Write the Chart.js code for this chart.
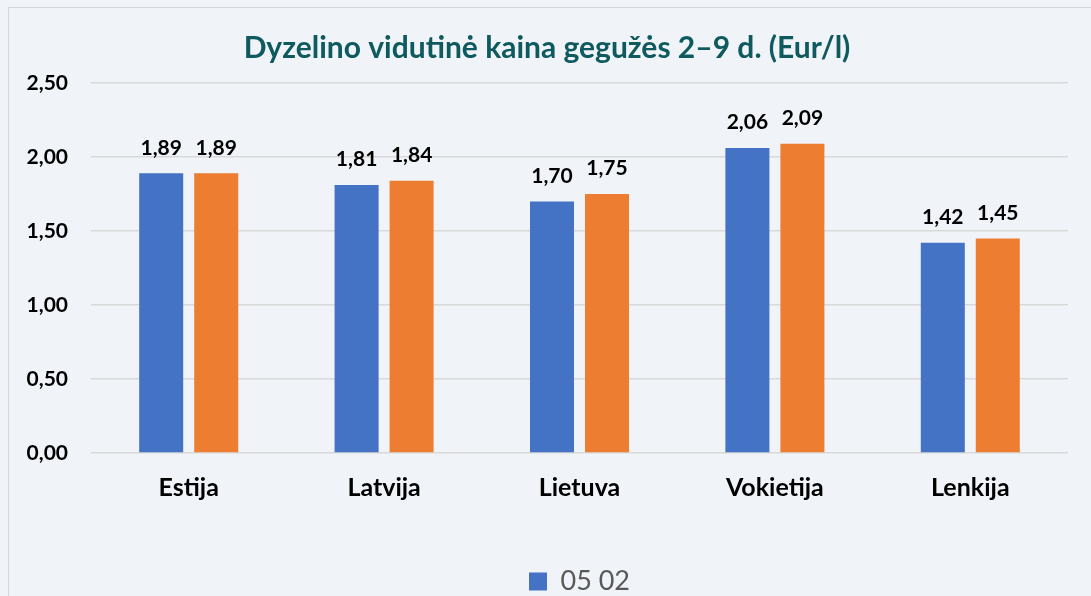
<!DOCTYPE html>
<html>
<head>
<meta charset="utf-8">
<script src="https://cdn.jsdelivr.net/npm/chart.js@4"></script>
<style>
  html, body {
    margin: 0;
    padding: 0;
    background: #f0f3f7;
    overflow: hidden;
    width: 1091px;
    height: 596px;
  }
  .frame {
    position: absolute;
    left: 8px;
    top: 7px;
    border: 1px solid #d6d6d6;
  }
</style>
</head>
<body>
<div class="frame">
  <canvas id="priceChart" width="1090" height="597"></canvas>
</div>
<script>
// data
var categories = ["Estija", "Latvija", "Lietuva", "Vokietija", "Lenkija"];
var may02 = [1.89, 1.81, 1.70, 2.06, 1.42];
var may09 = [1.89, 1.84, 1.75, 2.09, 1.45];
var seriesLabels = ["05 02", "05 09"];
var yTicks = [0, 0.5, 1, 1.5, 2, 2.5];

function comma(v) {
  return v.toFixed(2).replace(".", ",");
}

// value labels above bars
var valueLabels = {
  id: "valueLabels",
  afterDatasetsDraw: function (chart) {
    var c = chart.ctx;
    c.save();
    c.font = "bold 21px Lato";
    c.fillStyle = "#000";
    c.textAlign = "center";
    c.textBaseline = "bottom";
    chart.data.datasets.forEach(function (ds, i) {
      chart.getDatasetMeta(i).data.forEach(function (bar, j) {
        c.fillText(comma(ds.data[j]), bar.x, bar.y - 15);
      });
    });
    c.restore();
  },
};

var ctx = document.getElementById("priceChart");
var myChart = new Chart(ctx, {
  type: "bar",
  data: {
    labels: categories,
    datasets: [
      {
        label: seriesLabels[0],
        data: may02,
        backgroundColor: "#4472c4",
        categoryPercentage: 0.563,
        barPercentage: 0.8,
      },
      {
        label: seriesLabels[1],
        data: may09,
        backgroundColor: "#ed7d31",
        categoryPercentage: 0.563,
        barPercentage: 0.8,
      },
    ],
  },
  options: {
    responsive: false,
    animation: false,
    layout: {
      padding: { left: 17, right: 31, top: 0, bottom: 0 },
    },
    scales: {
      x: {
        grid: { display: false, drawTicks: false },
        border: { display: false },
        ticks: {
          color: "#000",
          padding: 20,
          font: { family: "Lato", size: 25, weight: "bold" },
        },
        afterFit: function (scale) {
          scale.height = 105;
        },
      },
      y: {
        min: 0,
        max: 2.5,
        afterBuildTicks: function (scale) {
          scale.ticks = yTicks.map(function (v) {
            return { value: v };
          });
        },
        afterFit: function (scale) {
          scale.width = 65;
        },
        grid: { color: "#d9d9d9", lineWidth: 1.5, drawTicks: false },
        border: { display: false },
        ticks: {
          color: "#000",
          padding: 23,
          font: { family: "Lato", size: 21, weight: "bold" },
          callback: function (v) {
            return comma(v);
          },
        },
      },
    },
    plugins: {
      title: {
        display: true,
        text: "Dyzelino vidutinė kaina gegužės 2–9 d. (Eur/l)",
        color: "#0e5a5e",
        font: { family: "Lato", size: 30, weight: "bold" },
        padding: { top: 22, bottom: 17 },
      },
      legend: {
        position: "bottom",
        fullSize: false,
        labels: {
          color: "#595959",
          boxWidth: 18,
          boxHeight: 18,
          font: { family: "Lato", size: 27 },
          filter: function (item) {
            return item.datasetIndex === 0;
          },
        },
      },
      tooltip: { enabled: false },
    },
  },
  plugins: [valueLabels],
});
</script>
</body>
</html>
